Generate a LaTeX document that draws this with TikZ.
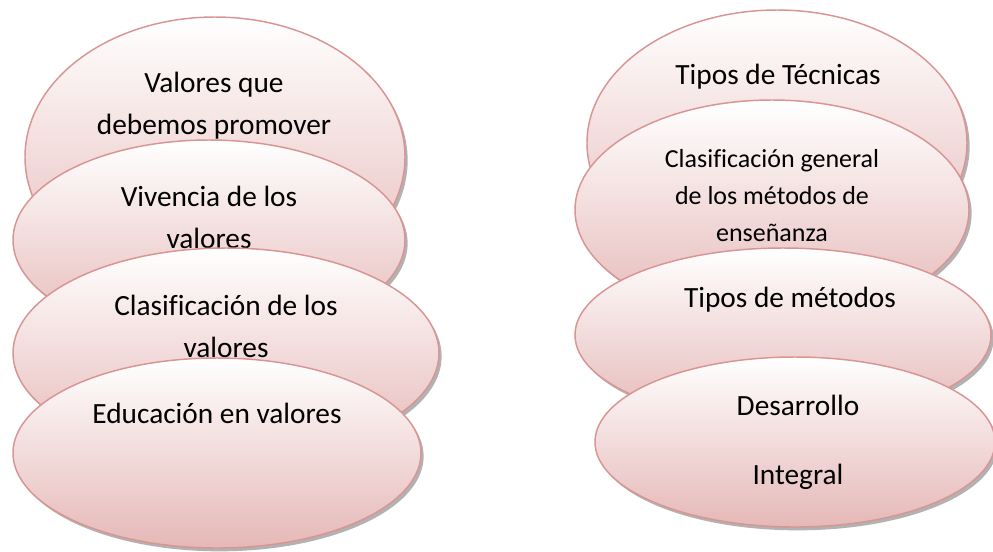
\documentclass[tikz,border=0pt]{standalone}
\usepackage{fontspec}
\setmainfont[Ligatures=NoCommon]{Carlito}
\usetikzlibrary{shapes.geometric,shadows}
\definecolor{rimpink}{RGB}{217,149,148}
\definecolor{lowpink}{RGB}{229,184,183}
\begin{document}
\begin{tikzpicture}[x=0.75pt,y=-0.75pt,
	bubble/.style={ellipse,draw=rimpink,line width=1.1pt,inner sep=0pt,
		top color=white,bottom color=lowpink,
		drop shadow={shadow xshift=2pt,shadow yshift=-2.5pt,fill=black,opacity=0.3}},
	txt/.style={align=center,font=\fontsize{22}{31.5}\selectfont},
	smalltxt/.style={align=center,font=\fontsize{19.5}{27.75}\selectfont}]
	\useasboundingbox (0,0) rectangle (993,551);
	
	\node[bubble,minimum width=285pt,minimum height=210pt] (v1) at (215,157) {};
	\node[txt] (tv1) at (214,106) {Valores que\\debemos promover};
	\node[bubble,minimum width=294pt,minimum height=150pt] (v2) at (209,240) {};
	\node[txt] (tv2) at (209,217) {Vivencia de los\\valores};
	\node[bubble,minimum width=319.5pt,minimum height=157.5pt] (v3) at (226,353) {};
	\node[txt] (tv3) at (226,326) {Clasificación de los\\valores};
	\node[bubble,minimum width=306pt,minimum height=142.5pt] (v4) at (217,453) {};
	\node[txt] (tv4) at (217,413) {Educación en valores};
	
	\node[bubble,minimum width=285pt,minimum height=199.5pt] (m1) at (777,143) {};
	\node[txt] (tm1) at (778,77) {Tipos de Técnicas};
	\node[bubble,minimum width=295.5pt,minimum height=165pt] (m2) at (772,210) {};
	\node[smalltxt] (tm2) at (772,196) {Clasificación general\\de los métodos de\\enseñanza};
	\node[bubble,minimum width=312pt,minimum height=130.5pt] (m3) at (783,335) {};
	\node[txt] (tm3) at (790,300) {Tipos de métodos};
	\node[bubble,minimum width=300pt,minimum height=127.5pt] (m4) at (795,442) {};
	\node[txt] (tm4) at (798,442) {Desarrollo\\[20pt]Integral};
\end{tikzpicture}
\end{document}
